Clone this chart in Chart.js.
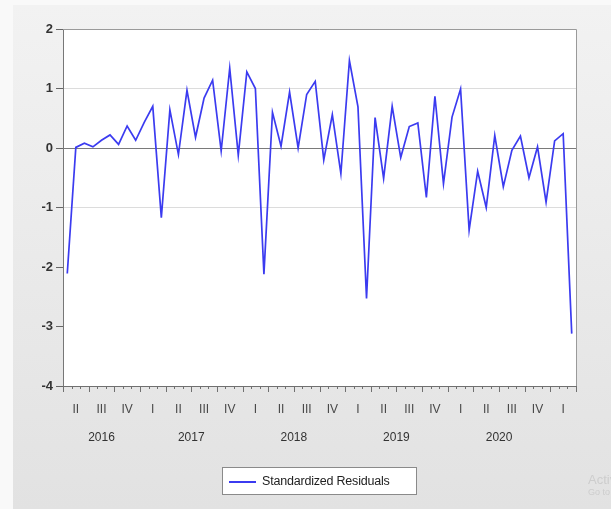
<!DOCTYPE html>
<html>
<head>
<meta charset="utf-8">
<script src="https://cdn.jsdelivr.net/npm/chart.js@4/dist/chart.umd.min.js"></script>
<style>
  html, body { margin: 0; padding: 0; width: 611px; height: 509px; overflow: hidden; background: #f9f9f9; font-family: Arial, "Liberation Sans", sans-serif; }
  #bg { position: absolute; left: 13px; top: 5px; right: 0; bottom: 0; background: linear-gradient(#f2f2f2, #e2e2e2); }
  #wrap { position: absolute; left: 0; top: 0; width: 611px; height: 509px; }
  #legend { position: absolute; left: 222px; top: 467px; width: 193px; height: 26px; border: 1px solid #8a8a8a; background: #fff; }
  #legend .swatch { position: absolute; left: 6px; top: 13px; width: 27px; height: 2px; }
  #legend .label { position: absolute; left: 39px; top: 6px; font-size: 12.5px; color: #222; letter-spacing: -0.2px; white-space: nowrap; }
  #wm { position: absolute; left: 588px; top: 472px; width: 23px; overflow: hidden; white-space: nowrap; color: #cdcdcd; }
  #wm div:first-child { font-size: 13px; }
  #wm div:last-child { font-size: 9px; }
</style>
</head>
<body>
<div id="bg"></div>
<div id="wrap"><canvas id="resid" width="611" height="509"></canvas></div>
<div id="legend"></div>
<div id="wm"><div>Activate Windows</div><div>Go to Settings to activate Windows.</div></div>
<script>
// monthly periods, 2016M04 .. 2021M03
const periods = [
  '2016M04','2016M05','2016M06','2016M07','2016M08','2016M09','2016M10','2016M11','2016M12',
  '2017M01','2017M02','2017M03','2017M04','2017M05','2017M06','2017M07','2017M08','2017M09','2017M10','2017M11','2017M12',
  '2018M01','2018M02','2018M03','2018M04','2018M05','2018M06','2018M07','2018M08','2018M09','2018M10','2018M11','2018M12',
  '2019M01','2019M02','2019M03','2019M04','2019M05','2019M06','2019M07','2019M08','2019M09','2019M10','2019M11','2019M12',
  '2020M01','2020M02','2020M03','2020M04','2020M05','2020M06','2020M07','2020M08','2020M09','2020M10','2020M11','2020M12',
  '2021M01','2021M02','2021M03'
];

const residuals = [
  -2.11, 0.01, 0.08, 0.02, 0.13, 0.22, 0.06, 0.37, 0.13,
  0.43, 0.70, -1.17, 0.64, -0.11, 0.97, 0.18, 0.84, 1.14, -0.05, 1.34, -0.12, 1.28,
  1.00, -2.12, 0.60, 0.03, 0.94, 0.00, 0.90, 1.12, -0.20, 0.56, -0.43, 1.47, 0.69,
  -2.53, 0.51, -0.51, 0.70, -0.16, 0.36, 0.42, -0.83, 0.87, -0.60, 0.52, 0.99,
  -1.38, -0.39, -1.00, 0.21, -0.65, -0.04, 0.20, -0.50, 0.02, -0.91, 0.12, 0.24, -3.12
];

const quarterLabels = ['II','III','IV','I','II','III','IV','I','II','III','IV','I','II','III','IV','I','II','III','IV','I'];
const yearLabels = ['2016','2017','2018','2019','2020'];

const seriesName = 'Standardized Residuals';
const lineColor = '#3b3bf0';

// custom EViews-like date axis, frame and white plot background
const evFrame = {
  id: 'evFrame',
  beforeDraw(chart) {
    const { ctx, chartArea: a } = chart;
    ctx.save();
    ctx.fillStyle = '#fff';
    ctx.fillRect(a.left, a.top, a.right - a.left, a.bottom - a.top);
    ctx.restore();
  },
  afterDraw(chart) {
    const { ctx, chartArea: a } = chart;
    const xs = chart.scales.x;
    ctx.save();
    ctx.strokeStyle = '#9a9a9a';
    ctx.lineWidth = 1;
    ctx.beginPath();
    ctx.moveTo(a.left, a.top + 0.5);
    ctx.lineTo(a.right + 0.5, a.top + 0.5);
    ctx.lineTo(a.right + 0.5, a.bottom);
    ctx.stroke();

    // bottom axis + month / quarter ticks
    ctx.strokeStyle = '#707070';
    ctx.beginPath();
    ctx.moveTo(a.left, a.bottom + 0.5);
    ctx.lineTo(a.right + 1, a.bottom + 0.5);
    for (let m = 0; m <= periods.length; m++) {
      const px = Math.round(xs.getPixelForValue(m)) + 0.5;
      const len = m % 3 === 0 ? 6 : 3;
      ctx.moveTo(px, a.bottom);
      ctx.lineTo(px, a.bottom + len);
    }
    ctx.stroke();

    ctx.fillStyle = '#484848';
    ctx.font = '12px Arial, "Liberation Sans", sans-serif';
    ctx.textAlign = 'center';
    ctx.textBaseline = 'middle';
    quarterLabels.forEach((q, i) => {
      ctx.fillText(q, xs.getPixelForValue(i * 3 + 1.5), a.bottom + 24);
    });
    ctx.fillStyle = '#333';
    yearLabels.forEach(y => {
      const idx = periods.map((p, i) => p.startsWith(y) ? i : -1).filter(i => i >= 0);
      const mid = (idx[0] + idx[idx.length - 1]) / 2 + 0.5;
      ctx.fillText(y, xs.getPixelForValue(mid), a.bottom + 52);
    });
    ctx.restore();
  }
};

new Chart(document.getElementById('resid'), {
  type: 'line',
  data: {
    datasets: [{
      label: seriesName,
      data: residuals.map((v, i) => ({ x: i + 0.5, y: v })),
      borderColor: lineColor,
      borderWidth: 1.7,
      pointRadius: 0,
      tension: 0,
      fill: false
    }]
  },
  options: {
    responsive: false,
    animation: false,
    layout: { padding: { top: 29, right: 35, left: 0, bottom: 123 } },
    plugins: { legend: { display: false }, tooltip: { enabled: false } },
    scales: {
      x: { type: 'linear', min: 0, max: periods.length, display: false },
      y: {
        min: -4, max: 2,
        afterFit(s) { s.width = 63; },
        ticks: {
          stepSize: 1,
          padding: 3,
          color: '#333',
          font: { family: 'Arial, "Liberation Sans", sans-serif', size: 13, weight: 'bold' }
        },
        border: { display: true, color: '#777' },
        grid: {
          tickLength: 7,
          tickColor: '#666',
          color: c => c.tick.value === 0 ? '#7a7a7a' : (Math.abs(c.tick.value) === 1 ? '#dcdcdc' : 'rgba(0,0,0,0)')
        }
      }
    }
  },
  plugins: [evFrame]
});

// legend
const lg = document.getElementById('legend');
lg.innerHTML = '<div class="swatch" style="background:' + lineColor + '"></div><div class="label">' + seriesName + '</div>';
</script>
</body>
</html>
